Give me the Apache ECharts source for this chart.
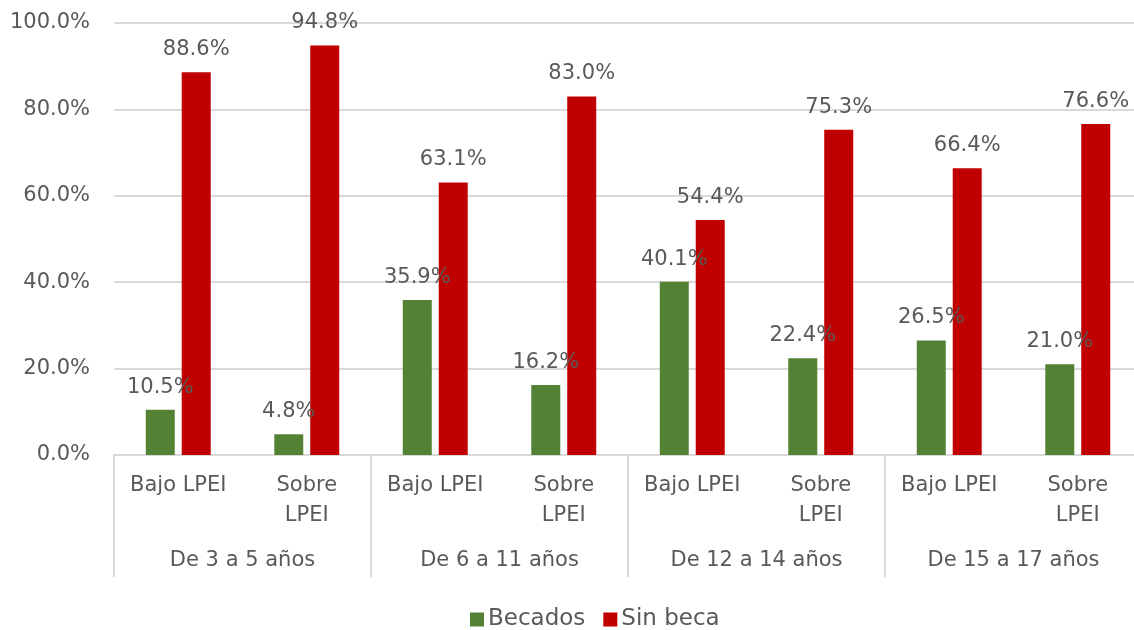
<!DOCTYPE html>
<html>
<head>
<meta charset="utf-8">
<script src="https://cdn.jsdelivr.net/npm/echarts@6/dist/echarts.min.js"></script>
<style>
  html, body { margin: 0; padding: 0; background: #fff; }
  #chart { width: 1134px; height: 630px; }
</style>
</head>
<body>
<div id="chart"></div>
<script>
// categorias (nivel 1 y nivel 2)
var subCats = ['Bajo LPEI', 'Sobre\nLPEI', 'Bajo LPEI', 'Sobre\nLPEI', 'Bajo LPEI', 'Sobre\nLPEI', 'Bajo LPEI', 'Sobre\nLPEI'];
var groups = ['De 3 a 5 años', 'De 6 a 11 años', 'De 12 a 14 años', 'De 15 a 17 años'];
var yTicks = [0, 20, 40, 60, 80, 100];
// valores en %
var becados = [10.5, 4.8, 35.9, 16.2, 40.1, 22.4, 26.5, 21.0];
var sinBeca = [88.6, 94.8, 63.1, 83.0, 54.4, 75.3, 66.4, 76.6];

var font = 'DejaVu Sans';
var txt = '#595959';

var myChart = echarts.init(document.getElementById('chart'));

var option = {
  textStyle: { fontFamily: font },
  animation: false,
  grid: { left: 114, width: 1028, top: 23, height: 432, outerBoundsMode: 'none' },
  legend: {
    top: 603,
    left: 465,
    itemWidth: 14,
    itemHeight: 14,
    itemGap: 18,
    icon: 'rect',
    textStyle: { fontSize: 23, color: txt, fontFamily: font, padding: [0, 0, 0, -1] },
    data: ['Becados', 'Sin beca']
  },
  xAxis: [
    {
      type: 'category',
      data: subCats,
      axisLine: { lineStyle: { color: '#d9d9d9', width: 2 } },
      axisTick: { show: false },
      axisLabel: { interval: 0, fontSize: 21, color: txt, lineHeight: 30, margin: 16, fontFamily: font }
    },
    {
      type: 'category',
      data: groups,
      position: 'bottom',
      axisLine: { show: false },
      axisTick: { show: true, length: 122, interval: 0, lineStyle: { color: '#d9d9d9', width: 2 } },
      axisLabel: { interval: 0, fontSize: 21, color: txt, margin: 95, fontFamily: font }
    }
  ],
  yAxis: {
    type: 'value',
    min: yTicks[0],
    max: yTicks[yTicks.length - 1],
    interval: 20,
    axisLine: { show: false },
    axisTick: { show: false },
    splitLine: { lineStyle: { color: '#d9d9d9', width: 2 } },
    axisLabel: {
      fontSize: 21, color: txt, margin: 24, fontFamily: font,
      formatter: function (v) { return v.toFixed(1) + '%'; }
    }
  },
  series: [
    {
      name: 'Becados',
      type: 'bar',
      xAxisIndex: 0,
      data: becados,
      barWidth: 29,
      barGap: '24%',
      itemStyle: { color: '#548235' },
      label: {
        show: true, position: 'top', distance: 12, fontSize: 21, color: txt, fontFamily: font,
        formatter: function (p) { return p.value.toFixed(1) + '%'; }
      }
    },
    {
      name: 'Sin beca',
      type: 'bar',
      xAxisIndex: 0,
      data: sinBeca,
      barWidth: 29,
      itemStyle: { color: '#C00000' },
      label: {
        show: true, position: 'top', distance: 12, fontSize: 21, color: txt, fontFamily: font,
        formatter: function (p) { return p.value.toFixed(1) + '%'; }
      }
    }
  ]
};

myChart.setOption(option);
</script>
</body>
</html>
